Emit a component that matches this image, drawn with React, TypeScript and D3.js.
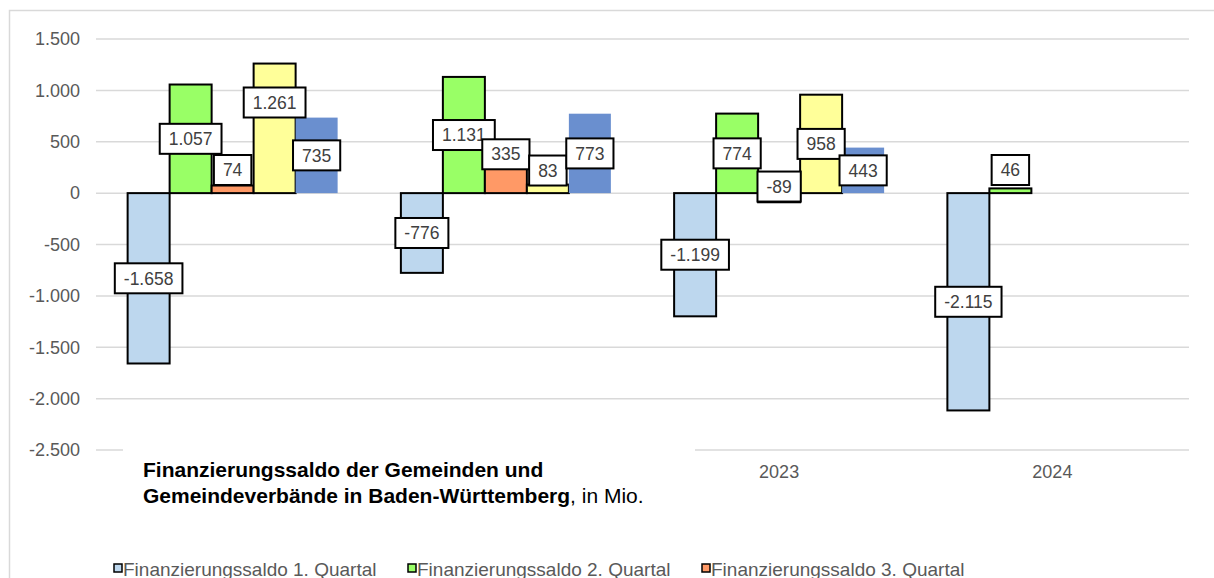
import React, { useEffect, useRef } from "react";
import * as d3 from "d3";

// ---- data ----
const years = ["2021", "2022", "2023", "2024"];
const seriesNames = [
  "Finanzierungssaldo 1. Quartal",
  "Finanzierungssaldo 2. Quartal",
  "Finanzierungssaldo 3. Quartal",
  "Finanzierungssaldo 4. Quartal",
  "Finanzierungssaldo Jahr",
];
const q1 = [-1658, -776, -1199, -2115];
const q2 = [1057, 1131, 774, 46];
const q3 = [74, 335, -89, null];
const q4 = [1261, 83, 958, null];
const jahr = [735, 773, 443, null];
// label anchor positions (value units) where the label is not at the bar middle
const q1LabelAt = [null, null, null, null];
const q2LabelAt = [null, null, null, 225];
const q3LabelAt = [225, 378, 64, null];
const q4LabelAt = [882, 220, null, null];
const jahrLabelAt = [null, null, null, null];
const yTicks = [-2500, -2000, -1500, -1000, -500, 0, 500, 1000, 1500];
const titleLine1 = "Finanzierungssaldo der Gemeinden und";
const titleLine2Bold = "Gemeindeverbände in Baden-Württemberg";
const titleLine2Rest = ", in Mio.";

const fills = ["#BDD7EE", "#99FF66", "#FF9966", "#FFFF99", "#6A8FCF"];
const FONT = "Arial, 'Liberation Sans', sans-serif";

export default function App() {
  const ref = useRef<SVGSVGElement>(null);

  useEffect(() => {
    const W = 1214, H = 578;
    const svg = d3.select(ref.current);
    svg.selectAll("*").remove();
    svg.attr("font-family", FONT);

    const fmt = d3
      .formatLocale({ decimal: ",", thousands: ".", grouping: [3], currency: ["", "€"], minus: "-" } as any)
      .format(",d");

    const values = [q1, q2, q3, q4, jahr];
    const labelAt = [q1LabelAt, q2LabelAt, q3LabelAt, q4LabelAt, jahrLabelAt];

    svg.append("rect").attr("width", W).attr("height", H).attr("fill", "#fff");
    // chart border
    svg.append("rect").attr("x", 9.5).attr("y", 10.5).attr("width", W + 20).attr("height", H + 20)
      .attr("fill", "none").attr("stroke", "#D9D9D9").attr("stroke-width", 1.5);

    const x0 = d3.scaleBand<string>().domain(years).range([96, 1189]).paddingInner(0.2315).paddingOuter(0.11575);
    const x1 = d3.scaleBand<number>().domain(d3.range(values.length)).range([0, x0.bandwidth()]);
    const y = d3.scaleLinear().domain([-2500, 1500]).range([450, 39]);

    // title box geometry (white box over the lower-left of the plot)
    const box = { x: 123, y: 446, w: 572, h: 74 };

    // gridlines
    svg.append("g").selectAll("line").data(yTicks).join("line")
      .attr("x1", 96).attr("x2", 1189)
      .attr("y1", (d) => y(d)).attr("y2", (d) => y(d))
      .attr("stroke", "#D9D9D9").attr("stroke-width", 1.5);

    // y tick labels
    svg.append("g").selectAll("text").data(yTicks).join("text")
      .attr("x", 80).attr("y", (d) => y(d) + 6.3)
      .attr("text-anchor", "end").attr("font-size", 18).attr("fill", "#595959")
      .text((d) => fmt(d));

    // x labels (those under the title box are hidden by it)
    const visibleYears = years.filter((d) => {
      const cx = (x0(d) as number) + x0.bandwidth() / 2;
      return cx > box.x + box.w || cx < box.x;
    });
    svg.append("g").selectAll("text").data(visibleYears).join("text")
      .attr("x", (d) => (x0(d) as number) + x0.bandwidth() / 2).attr("y", 478)
      .attr("text-anchor", "middle").attr("font-size", 18).attr("fill", "#595959")
      .text((d) => d);

    // bars
    const bars = svg.append("g");
    values.forEach((vals, s) => {
      vals.forEach((v, i) => {
        if (v == null) return;
        const bx = (x0(years[i]) as number) + (x1(s) as number);
        bars.append("rect")
          .attr("x", bx).attr("width", x1.bandwidth())
          .attr("y", Math.min(y(v), y(0))).attr("height", Math.abs(y(v) - y(0)))
          .attr("fill", fills[s])
          .attr("stroke", s < 4 ? "#000" : "none").attr("stroke-width", 2);
      });
    });

    // data labels
    const labels = svg.append("g");
    values.forEach((vals, s) => {
      vals.forEach((v, i) => {
        if (v == null) return;
        const cx = (x0(years[i]) as number) + (x1(s) as number) + x1.bandwidth() / 2;
        const anchor = labelAt[s][i] ?? v / 2;
        const cy = y(anchor);
        const g = labels.append("g");
        const rect = g.append("rect");
        const t = g.append("text")
          .attr("x", cx).attr("y", cy + 6.2)
          .attr("text-anchor", "middle").attr("font-size", 17.5).attr("fill", "#404040")
          .text(fmt(v));
        const w = (t.node() as SVGTextElement).getComputedTextLength() + 18;
        rect.attr("x", cx - w / 2).attr("y", cy - 15).attr("width", w).attr("height", 30)
          .attr("fill", "#fff").attr("stroke", "#000").attr("stroke-width", 2);
      });
    });

    // title box
    svg.append("rect").attr("x", box.x).attr("y", box.y).attr("width", box.w).attr("height", box.h).attr("fill", "#fff");
    const title = svg.append("text").attr("font-size", 21).attr("fill", "#000");
    title.append("tspan").attr("x", 143).attr("y", 477).attr("font-weight", "bold").text(titleLine1);
    title.append("tspan").attr("x", 143).attr("y", 503).attr("font-weight", "bold").text(titleLine2Bold);
    title.append("tspan").attr("font-weight", "normal").text(titleLine2Rest);

    // legend (first row visible)
    const legend = svg.append("g");
    seriesNames.forEach((name, s) => {
      const col = s % 3, row = Math.floor(s / 3);
      const lx = 114 + col * 294;
      const ly = 564 + row * 26;
      if (ly > H) return;
      legend.append("rect").attr("x", lx).attr("y", ly).attr("width", 8).attr("height", 8)
        .attr("fill", fills[s]).attr("stroke", "#000").attr("stroke-width", 1.5);
      legend.append("text").attr("x", lx + 9).attr("y", ly + 11.5)
        .attr("font-size", 19).attr("fill", "#595959").text(name);
    });
  }, []);

  return (
    <svg
      ref={ref}
      width={1214}
      height={578}
      style={{ position: "absolute", left: 0, top: 0, display: "block" }}
    />
  );
}
